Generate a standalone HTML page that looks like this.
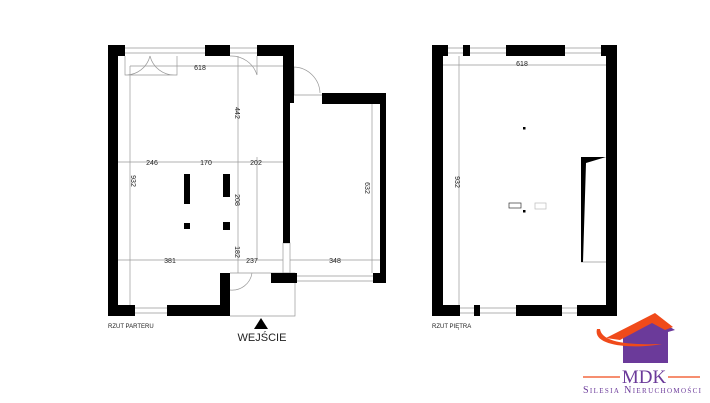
<!DOCTYPE html>
<html><head><meta charset="utf-8"><style>
html,body{margin:0;padding:0;background:#fff;width:710px;height:403px;overflow:hidden}
svg{display:block}
text{font-family:"Liberation Sans",sans-serif;fill:#222}
</style></head><body>
<svg width="710" height="403" viewBox="0 0 710 403" xmlns="http://www.w3.org/2000/svg">
<g fill="none" stroke="#999" stroke-width="0.7">
<line x1="125" y1="48" x2="205" y2="48"/><line x1="125" y1="53" x2="205" y2="53"/>
<line x1="230" y1="48" x2="257" y2="48"/><line x1="230" y1="53" x2="257" y2="53"/>
<line x1="135" y1="308" x2="167" y2="308"/><line x1="135" y1="313" x2="167" y2="313"/>
<line x1="297" y1="276" x2="373" y2="276"/><line x1="297" y1="281" x2="373" y2="281"/>
<path d="M125 56 V75 H177 V56 M150 56 A25 25 0 0 1 125 75 M150 56 A25 25 0 0 0 175 75"/>
<path d="M257 56 V75 M230 56 A27 27 0 0 1 257 75"/>
<path d="M294 67 V95 H322 M294 67 A27 27 0 0 1 320 93"/>
<path d="M230 273 H295 V316 H230 M230 290 A20 20 0 0 0 252 273"/>
<line x1="130" y1="66" x2="283" y2="66"/>
<line x1="130" y1="66" x2="130" y2="305"/>
<line x1="118" y1="162" x2="283" y2="162"/>
<line x1="118" y1="260" x2="283" y2="260"/>
<line x1="238" y1="56" x2="238" y2="273"/>
<line x1="257" y1="157" x2="257" y2="260"/>
<line x1="290" y1="260" x2="380" y2="260"/>
<line x1="372" y1="104" x2="372" y2="273"/>
<rect x="283" y="243" width="7" height="30"/>
<line x1="448" y1="48" x2="601" y2="48"/><line x1="448" y1="53" x2="601" y2="53"/>
<line x1="460" y1="308" x2="577" y2="308"/><line x1="460" y1="313" x2="577" y2="313"/>
<line x1="443" y1="65" x2="606" y2="65"/>
<line x1="459" y1="56" x2="459" y2="305"/>
<line x1="581" y1="262" x2="606" y2="262"/>
<rect x="509" y="203" width="12" height="5" stroke="#333"/>
<rect x="535" y="203" width="11" height="6" stroke="#bbb"/>
</g>
<g fill="#000">
<rect x="108" y="45" width="10" height="271"/>
<rect x="108" y="45" width="17" height="11"/>
<rect x="205" y="45" width="25" height="11"/>
<rect x="257" y="45" width="37" height="11"/>
<rect x="283" y="45" width="11" height="58"/>
<rect x="283" y="103" width="7" height="140"/>
<rect x="322" y="93" width="64" height="11"/>
<rect x="380" y="93" width="6" height="190"/>
<rect x="271" y="273" width="26" height="10"/>
<rect x="373" y="273" width="13" height="10"/>
<rect x="108" y="305" width="27" height="11"/>
<rect x="167" y="305" width="63" height="11"/>
<rect x="220" y="273" width="10" height="43"/>
<rect x="184" y="174" width="6" height="30"/><rect x="184" y="223" width="6" height="6"/>
<rect x="223" y="174" width="7" height="23"/><rect x="223" y="222" width="7" height="8"/>
<rect x="432" y="45" width="11" height="271"/>
<rect x="606" y="45" width="11" height="271"/>
<rect x="432" y="45" width="16" height="11"/>
<rect x="463" y="45" width="7" height="11"/>
<rect x="506" y="45" width="59" height="11"/>
<rect x="601" y="45" width="16" height="11"/>
<rect x="432" y="305" width="28" height="11"/>
<rect x="474" y="305" width="6" height="11"/>
<rect x="516" y="305" width="46" height="11"/>
<rect x="577" y="305" width="40" height="11"/>
<polygon points="581,157 606,157 586,163 583,262 581,262"/>
<rect x="523" y="127" width="2.5" height="2.5"/>
<rect x="523" y="210" width="2.5" height="2.5"/>
<polygon points="261,318 254,329 268,329"/>
</g>
<g font-size="7">
<text x="200" y="70" text-anchor="middle">618</text>
<text x="152" y="165" text-anchor="middle">246</text>
<text x="206" y="165" text-anchor="middle">170</text>
<text x="256" y="165" text-anchor="middle">202</text>
<text x="170" y="263" text-anchor="middle">381</text>
<text x="252" y="263" text-anchor="middle">237</text>
<text x="335" y="263" text-anchor="middle">348</text>
<text x="522" y="66" text-anchor="middle">618</text>
<text transform="translate(131,181) rotate(90)" text-anchor="middle">932</text>
<text transform="translate(235,113) rotate(90)" text-anchor="middle">442</text>
<text transform="translate(235,200) rotate(90)" text-anchor="middle">208</text>
<text transform="translate(235,252) rotate(90)" text-anchor="middle">182</text>
<text transform="translate(365,188) rotate(90)" text-anchor="middle">632</text>
<text transform="translate(455,182) rotate(90)" text-anchor="middle">932</text>
</g>
<text x="108" y="328" font-size="6">RZUT PARTERU</text>
<text x="432" y="328" font-size="6">RZUT PIĘTRA</text>
<text x="262" y="341" font-size="11" text-anchor="middle">WEJŚCIE</text>
<polygon points="623,334 655,318 675,330 668,332 668,363 623,363" fill="#6b3a9a"/>
<path d="M606,338 L655,313 L673,327 L665,330 L652,323 L620,340 Z" fill="#f04a1a"/>
<path d="M597,329 C592,347 635,349 662,344 C630,345 602,343 600,329 Z" fill="#f04a1a"/>
<line x1="583" y1="377" x2="620" y2="377" stroke="#f04a1a" stroke-width="1.2"/>
<line x1="668" y1="377" x2="700" y2="377" stroke="#f04a1a" stroke-width="1.2"/>
<text x="644" y="383" font-size="19" text-anchor="middle" style="font-family:'Liberation Serif',serif;fill:#6b3a9a">MDK</text>
<text x="642" y="393" font-size="10" text-anchor="middle" textLength="118" style="font-family:'Liberation Serif',serif;fill:#6b3a9a;font-variant:small-caps">Silesia Nieruchomości</text>
</svg>
</body></html>
